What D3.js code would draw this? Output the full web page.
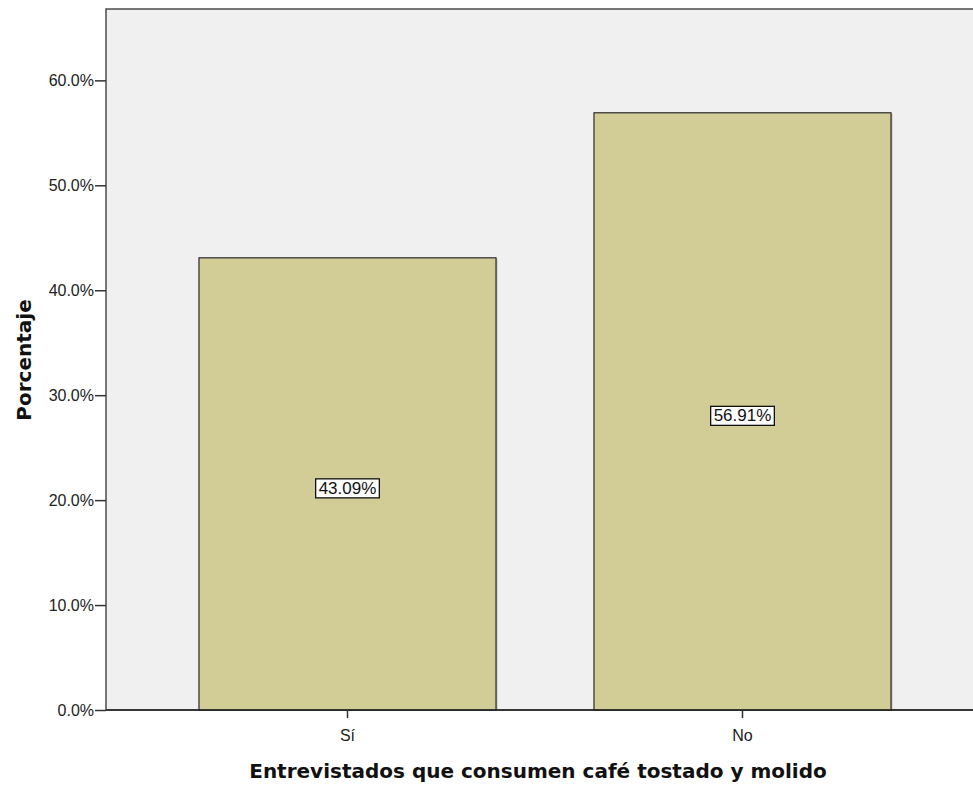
<!DOCTYPE html>
<html>
<head>
<meta charset="utf-8">
<script src="https://cdn.jsdelivr.net/npm/d3@7"></script>
<style>
  body { margin: 0; background: #fff; }
  svg { display: block; font-family: "Liberation Sans", Arial, sans-serif; }
</style>
</head>
<body>
<div class="chart"></div>
<script>
// data
var categories = ["Sí", "No"];
var percents   = [43.09, 56.91];
var yTicks     = [0, 10, 20, 30, 40, 50, 60];

var width  = 973,
    height = 785;
var plotL = 106, plotT = 9, plotR = 984, plotB = 710;

var svg = d3.select(".chart")
    .append("svg")
    .attr("width", width)
    .attr("height", height);

var x = d3.scaleBand()
    .domain(categories)
    .range([plotL, plotR])
    .paddingInner(0.248)
    .paddingOuter(0.2354);

var y = d3.scaleLinear()
    .domain([0, 66.8])
    .range([plotB, plotT]);

// plot background
svg.append("rect")
    .attr("x", plotL)
    .attr("y", plotT)
    .attr("width", plotR - plotL)
    .attr("height", plotB - plotT)
    .attr("fill", "#f0f0f0")
    .attr("stroke", "#222")
    .attr("stroke-width", 1.2);

var bars = svg.selectAll(".bar")
    .data(percents)
    .enter()
    .append("g")
    .attr("class", "bar");

// soft shadow on the right side
bars.append("rect")
    .attr("x", function (d, i) { return x(categories[i]) + 1.5; })
    .attr("y", function (d) { return y(d) + 1; })
    .attr("width", x.bandwidth())
    .attr("height", function (d) { return plotB - y(d) - 1; })
    .attr("fill", "#9a9a9a")
    .attr("opacity", 0.6);

bars.append("rect")
    .attr("x", function (d, i) { return x(categories[i]); })
    .attr("y", function (d) { return y(d); })
    .attr("width", x.bandwidth())
    .attr("height", function (d) { return plotB - y(d); })
    .attr("fill", "#d2cd97")
    .attr("stroke", "#2a2a2a")
    .attr("stroke-width", 1.2);

// value labels in white boxes
bars.each(function (d, i) {
    var g = d3.select(this);
    var cx = x(categories[i]) + x.bandwidth() / 2;
    var cy = y(d / 2) + 4;
    var txt = g.append("text")
        .attr("x", cx)
        .attr("y", cy)
        .attr("dy", "0.35em")
        .attr("text-anchor", "middle")
        .attr("font-size", 17)
        .attr("fill", "#111")
        .text(d.toFixed(2) + "%");
    var bb = txt.node().getBBox();
    g.insert("rect", "text")
        .attr("x", bb.x - 3)
        .attr("y", bb.y)
        .attr("width", bb.width + 6)
        .attr("height", bb.height)
        .attr("fill", "#fff")
        .attr("stroke", "#111")
        .attr("stroke-width", 1.3);
});

// bottom axis line over the bars
svg.append("line")
    .attr("x1", plotL).attr("x2", plotR)
    .attr("y1", plotB).attr("y2", plotB)
    .attr("stroke", "#222").attr("stroke-width", 1.5);

// axes
var yAxis = svg.append("g")
    .attr("transform", "translate(" + plotL + ",0)")
    .call(d3.axisLeft(y).tickValues(yTicks).tickSize(11).tickSizeOuter(0)
        .tickFormat(function (d) { return d.toFixed(1) + "%"; }));
yAxis.select(".domain").remove();
yAxis.selectAll("line").attr("stroke", "#333").attr("stroke-width", 1.5);
yAxis.selectAll("text").attr("font-size", 16).attr("fill", "#222")
    .attr("font-family", "Liberation Sans, Arial, sans-serif").attr("x", -12);

var xAxis = svg.append("g")
    .attr("transform", "translate(0," + plotB + ")")
    .call(d3.axisBottom(x).tickSize(8).tickSizeOuter(0));
xAxis.select(".domain").remove();
xAxis.selectAll("line").attr("stroke", "#333").attr("stroke-width", 1.5);
xAxis.selectAll("text").attr("font-size", 16).attr("fill", "#222")
    .attr("font-family", "Liberation Sans, Arial, sans-serif")
    .attr("dy", null).attr("y", 31);

// titles
svg.append("text")
    .attr("x", 538)
    .attr("y", 778)
    .attr("text-anchor", "middle")
    .attr("font-size", 20)
    .attr("font-weight", "bold")
    .attr("font-family", "DejaVu Sans, sans-serif")
    .attr("fill", "#111")
    .text("Entrevistados que consumen café tostado y molido");

svg.append("text")
    .attr("transform", "translate(31," + 360 + ") rotate(-90)")
    .attr("text-anchor", "middle")
    .attr("font-size", 20)
    .attr("font-weight", "bold")
    .attr("font-family", "DejaVu Sans, sans-serif")
    .attr("fill", "#111")
    .text("Porcentaje");
</script>
</body>
</html>
